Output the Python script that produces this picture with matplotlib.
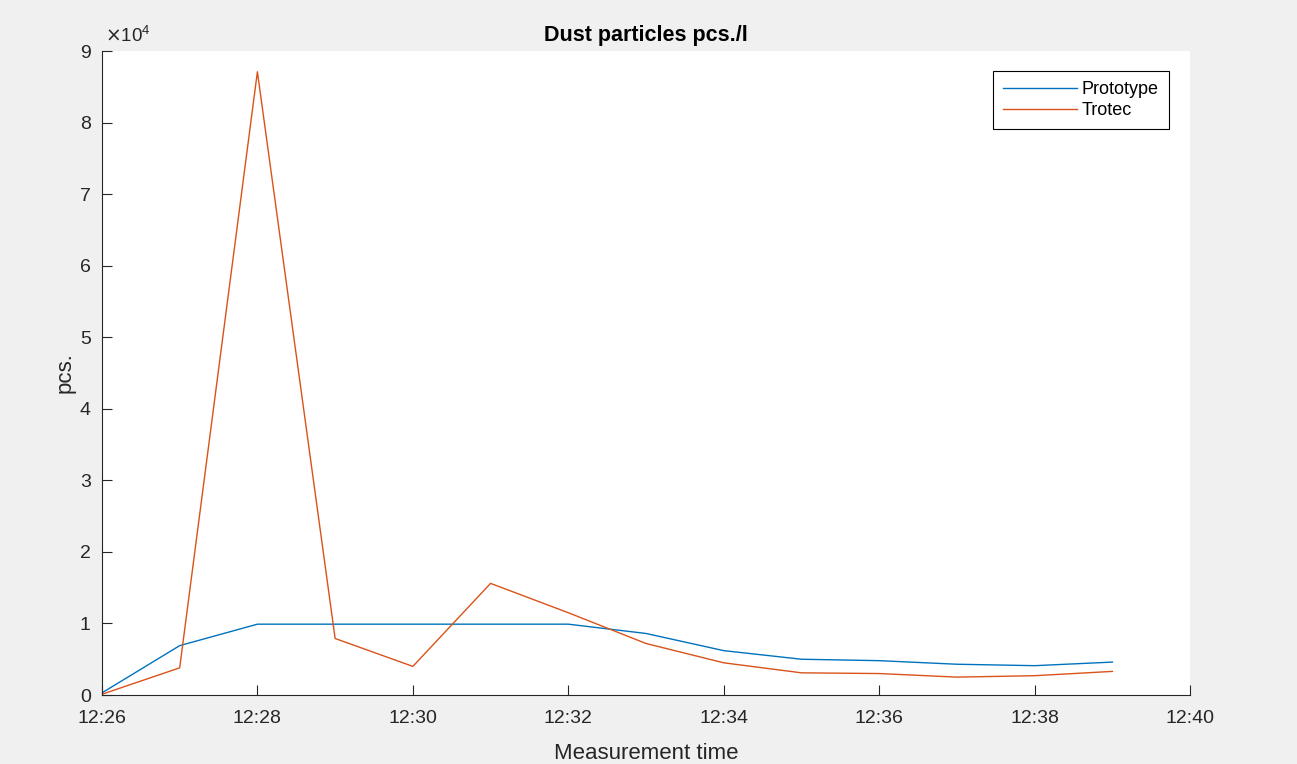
import matplotlib
matplotlib.use("Agg")
import matplotlib.pyplot as plt
import matplotlib.dates as mdates
from matplotlib.ticker import FuncFormatter, MultipleLocator
import pandas as pd

plt.rcParams['font.family'] = ['Liberation Sans', 'DejaVu Sans']

times = ["12:26", "12:27", "12:28", "12:29", "12:30", "12:31", "12:32",
         "12:33", "12:34", "12:35", "12:36", "12:37", "12:38", "12:39"]
prototype = [300, 6900, 9900, 9900, 9900, 9900, 9900,
             8600, 6200, 5000, 4800, 4300, 4100, 4600]
trotec = [100, 3800, 87100, 7900, 4000, 15600, 11500,
          7200, 4500, 3100, 3000, 2500, 2700, 3300]

t = pd.to_datetime(["2020-01-01 " + s for s in times])

fig = plt.figure(figsize=(12.97, 7.64), dpi=100, facecolor='#f0f0f0')
ax = fig.add_axes([0.0786, 0.0903, 0.839, 0.8429])
ax.set_facecolor('white')

ax.plot(t, prototype, color='#0072BD', lw=1.0, label='Prototype')
ax.plot(t, trotec, color='#D95319', lw=1.0, label='Trotec')

ax.set_xlim(pd.Timestamp("2020-01-01 12:26"), pd.Timestamp("2020-01-01 12:40"))
ax.set_ylim(0, 90000)
ax.xaxis.set_major_locator(mdates.MinuteLocator(byminute=range(0, 60, 2)))
ax.xaxis.set_major_formatter(mdates.DateFormatter('%H:%M'))
ax.yaxis.set_major_locator(MultipleLocator(10000))
ax.yaxis.set_major_formatter(FuncFormatter(lambda v, p: '%d' % round(v / 1e4)))

ax.spines['top'].set_visible(False)
ax.spines['right'].set_visible(False)
for s in ['left', 'bottom']:
    ax.spines[s].set_color('#262626')
    ax.spines[s].set_linewidth(0.8)
ax.tick_params(direction='in', length=7, width=0.8, colors='#262626',
               labelsize=14)
ax.tick_params(axis='x', pad=11)
ax.tick_params(axis='y', pad=8)

ax.text(0.003, 1.008, r'$\times\mathregular{10^4}$', transform=ax.transAxes,
        fontsize=13.5, color='#262626', ha='left', va='bottom')

ax.set_title('Dust particles pcs./l', fontsize=15.5, fontweight='bold',
             color='black', pad=7)
ax.set_xlabel('Measurement time', fontsize=16, color='#262626', labelpad=11)
ax.set_ylabel('pcs.', fontsize=16, color='#262626', labelpad=3)

leg = ax.legend(loc='upper right', bbox_to_anchor=(0.9805, 0.9685), fontsize=13,
                fancybox=False, framealpha=1, edgecolor='black',
                handlelength=4.1, borderpad=0.55, labelspacing=0.2,
                handletextpad=0.3, borderaxespad=0)
leg.get_frame().set_linewidth(0.8)

fig.savefig('out.png', dpi=100, facecolor=fig.get_facecolor())
